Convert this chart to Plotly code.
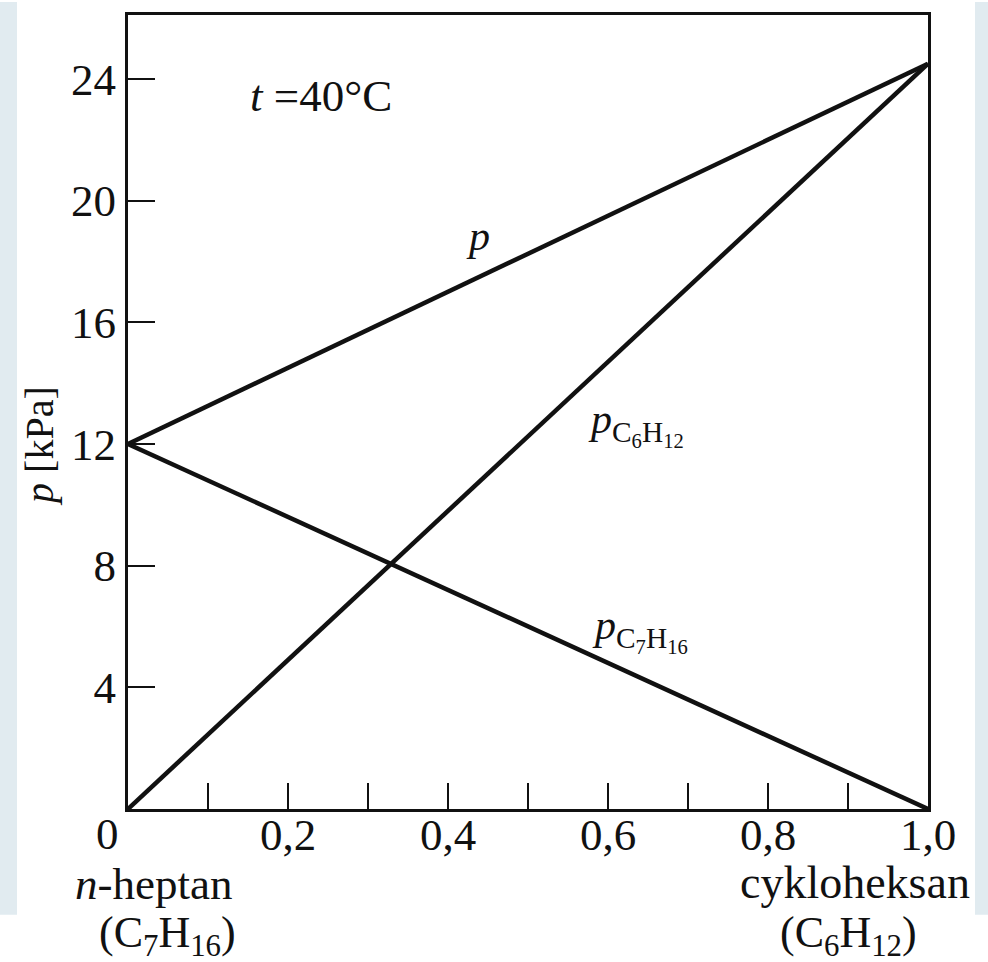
import plotly.graph_objects as go

# ---- data ----
x_frac = [0.0, 1.0]          # mole fraction of cyclohexane
p_total = [12.0, 24.5]       # total pressure p [kPa]
p_c6h12 = [0.0, 24.5]        # partial pressure of C6H12
p_c7h16 = [12.0, 0.0]        # partial pressure of C7H16

x_tickvals = [0.1, 0.2, 0.3, 0.4, 0.5, 0.6, 0.7, 0.8, 0.9, 1.0]
x_ticktext = ["", "0,2", "", "0,4", "", "0,6", "", "0,8", "", "1,0"]
y_tickvals = [4, 8, 12, 16, 20, 24]
y_ticktext = ["4", "8", "12", "16", "20", "24"]

FONT = "Liberation Serif"
BLACK = "#111111"
TICK_SIZE = 45

fig = go.Figure()
for ys in (p_total, p_c6h12, p_c7h16):
    fig.add_trace(go.Scatter(x=x_frac, y=ys, mode="lines",
                             line=dict(color=BLACK, width=4.5),
                             showlegend=False, hoverinfo="skip", cliponaxis=False))

fig.update_layout(
    width=988, height=962,
    margin=dict(l=128, r=60, t=13, b=153),
    paper_bgcolor="white", plot_bgcolor="white",
    font=dict(family=FONT, color=BLACK, size=40),
    showlegend=False,
)
fig.update_xaxes(range=[0, 1], tickvals=x_tickvals, ticktext=x_ticktext,
                 ticks="inside", ticklen=26, tickwidth=2, tickcolor=BLACK,
                 showline=True, linewidth=3, linecolor=BLACK, mirror=True,
                 showgrid=False, zeroline=False, ticklabelstandoff=-16,
                 tickfont=dict(family=FONT, size=TICK_SIZE, color=BLACK))
fig.update_yaxes(range=[0, 26.1], tickvals=y_tickvals, ticktext=y_ticktext,
                 ticks="inside", ticklen=27, tickwidth=2, tickcolor=BLACK,
                 showline=True, linewidth=3, linecolor=BLACK, mirror=True,
                 showgrid=False, zeroline=False,
                 tickfont=dict(family=FONT, size=TICK_SIZE, color=BLACK))

# light blue strips at the picture edges
for x0, x1 in ((0, 17), (975, 988)):
    fig.add_shape(type="rect", xref="paper", yref="paper",
                  x0=(x0 - 128) / 800, x1=(x1 - 128) / 800,
                  y0=(809 - 915) / 796, y1=(809 - 0) / 796,
                  fillcolor="#e1ebf0", line=dict(width=0), layer="below")

ann = []
def add(text, x, y, xref="x", yref="y", size=40, xanchor="center", yanchor="middle", angle=0):
    ann.append(dict(text=text, x=x, y=y, xref=xref, yref=yref, showarrow=False,
                    font=dict(family=FONT, size=size, color=BLACK),
                    xanchor=xanchor, yanchor=yanchor, textangle=angle))

add("<i>t</i> =40°C", 0.15, 23.45, xanchor="left", size=45)
add("<i>p</i>", 0.4375, 18.85, size=42)
add("<i>p</i><sub>C<sub>6</sub>H<sub>12</sub></sub>", 0.572, 12.65, xanchor="left", size=42)
add("<i>p</i><sub>C<sub>7</sub>H<sub>16</sub></sub>", 0.578, 5.9, xanchor="left", size=42)
# corner zero
add("0", (107 - 128) / 800, (809 - 834) / 796, xref="paper", yref="paper", size=TICK_SIZE)
# y-axis title
add("<i>p</i> [kPa]", (40 - 128) / 800, (809 - 445) / 796, xref="paper", yref="paper", size=40, angle=-90)
# component labels
add("<i>n</i>-heptan", (73 - 128) / 800, (809 - 884) / 796, xref="paper", yref="paper", xanchor="left", size=45)
add("(C<sub>7</sub>H<sub>16</sub>)", (167 - 128) / 800, (809 - 936) / 796, xref="paper", yref="paper", size=44)
add("cykloheksan", (972 - 128) / 800, (809 - 883) / 796, xref="paper", yref="paper", xanchor="right", size=46)
add("(C<sub>6</sub>H<sub>12</sub>)", (848 - 128) / 800, (809 - 936) / 796, xref="paper", yref="paper", size=44)
fig.update_layout(annotations=ann)

fig.write_html("out.html")
